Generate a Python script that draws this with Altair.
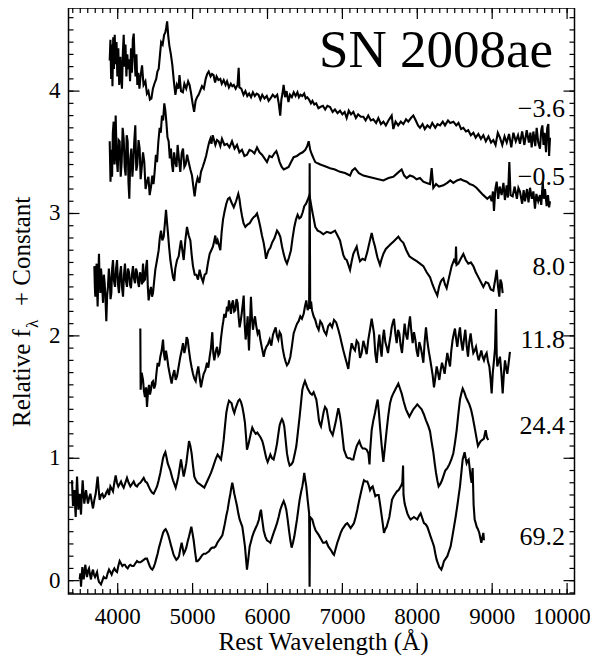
import altair as alt
import pandas as pd

FONT = "Liberation Serif"

epochs = ["\u22123.6", "\u22120.5", "8.0", "11.8", "24.4", "69.2"]

spec_m36 = [
    (3893, 4.25), (3903, 4.42), (3912, 4.10), (3921, 4.38), (3930, 4.04), (3940, 4.44), (3950, 4.18),
    (3960, 4.46), (3972, 4.22), (3984, 4.40), (3995, 4.12), (4008, 4.35), (4020, 4.05), (4035, 4.28),
    (4047, 4.10), (4057, 4.02), (4068, 4.30), (4080, 4.46), (4092, 4.20), (4104, 4.38), (4116, 4.12),
    (4128, 4.30), (4140, 4.18), (4152, 4.26), (4165, 4.08), (4178, 4.35), (4190, 4.15), (4202, 4.42),
    (4214, 4.47), (4226, 4.25), (4238, 4.12), (4250, 4.30), (4262, 4.05), (4275, 4.15), (4290, 4.02),
    (4305, 4.12), (4325, 4.21), (4345, 4.05), (4370, 4.08), (4390, 3.98), (4410, 4.00), (4430, 3.93),
    (4450, 3.94), (4470, 4.02), (4490, 4.06), (4514, 4.10), (4530, 4.16), (4547, 4.18), (4565, 4.30),
    (4580, 4.40), (4600, 4.38), (4620, 4.46), (4636, 4.48), (4648, 4.52), (4660, 4.57), (4675, 4.45),
    (4690, 4.37), (4710, 4.30), (4730, 4.21), (4750, 4.08), (4770, 3.97), (4790, 4.05), (4810, 4.02),
    (4825, 4.13), (4845, 4.00), (4870, 3.99), (4890, 4.06), (4915, 4.02), (4940, 4.08), (4960, 4.05),
    (4980, 3.98), (5000, 3.90), (5020, 3.83), (5040, 3.92), (5060, 3.95), (5080, 3.97), (5100, 4.00),
    (5125, 4.04), (5150, 4.02), (5175, 4.10), (5195, 4.14), (5215, 4.16), (5240, 4.12), (5260, 4.14),
    (5280, 4.13), (5300, 4.07), (5320, 4.12), (5345, 4.09), (5370, 4.10), (5390, 4.06), (5415, 4.09),
    (5440, 4.05), (5460, 4.08), (5485, 4.03), (5510, 4.06), (5530, 4.04), (5550, 4.05), (5575, 4.02),
    (5600, 4.05), (5615, 4.19), (5625, 4.03), (5650, 4.02), (5680, 3.97), (5705, 4.00), (5730, 3.96),
    (5755, 3.98), (5780, 3.95), (5805, 3.99), (5830, 3.96), (5855, 3.98), (5880, 3.97), (5905, 3.93),
    (5930, 3.97), (5960, 3.94), (5990, 3.96), (6015, 3.92), (6040, 3.94), (6070, 3.97), (6100, 3.95),
    (6130, 3.97), (6150, 3.90), (6170, 3.80), (6185, 3.93), (6200, 3.98), (6215, 4.05), (6235, 3.95),
    (6255, 4.00), (6280, 3.91), (6300, 3.97), (6325, 3.95), (6350, 3.99), (6375, 3.96), (6400, 3.99),
    (6420, 3.95), (6440, 3.97), (6465, 3.96), (6490, 3.98), (6510, 3.94), (6530, 3.95), (6555, 3.93),
    (6580, 3.90), (6600, 3.92), (6625, 3.89), (6650, 3.90), (6680, 3.86), (6705, 3.87), (6740, 3.88),
    (6770, 3.85), (6800, 3.88), (6835, 3.87), (6870, 3.83), (6900, 3.85), (6935, 3.82), (6968, 3.84),
    (7000, 3.81), (7030, 3.83), (7057, 3.78), (7085, 3.84), (7115, 3.81), (7146, 3.83), (7180, 3.78),
    (7210, 3.81), (7245, 3.79), (7280, 3.79), (7310, 3.76), (7345, 3.80), (7380, 3.76), (7413, 3.77),
    (7450, 3.74), (7480, 3.78), (7515, 3.73), (7547, 3.75), (7580, 3.72), (7615, 3.76), (7658, 3.80),
    (7680, 3.69), (7710, 3.75), (7745, 3.72), (7780, 3.75), (7814, 3.73), (7850, 3.77), (7880, 3.75),
    (7915, 3.78), (7947, 3.80), (7980, 3.76), (8010, 3.72), (8036, 3.70), (8070, 3.73), (8100, 3.69),
    (8135, 3.72), (8170, 3.70), (8200, 3.74), (8240, 3.70), (8270, 3.73), (8304, 3.72), (8340, 3.75),
    (8370, 3.72), (8410, 3.76), (8440, 3.74), (8482, 3.75), (8520, 3.72), (8550, 3.74), (8585, 3.69),
    (8615, 3.70), (8650, 3.67), (8680, 3.68), (8715, 3.64), (8749, 3.66), (8780, 3.62), (8815, 3.65),
    (8850, 3.61), (8882, 3.64), (8915, 3.59), (8950, 3.63), (8985, 3.58), (9015, 3.60), (9045, 3.56),
    (9075, 3.66), (9104, 3.62), (9135, 3.56), (9165, 3.63), (9194, 3.58), (9225, 3.65), (9255, 3.54),
    (9283, 3.66), (9315, 3.59), (9345, 3.64), (9371, 3.57), (9400, 3.67), (9430, 3.56), (9461, 3.68),
    (9490, 3.58), (9510, 3.66), (9527, 3.54), (9550, 3.67), (9575, 3.55), (9594, 3.70), (9615, 3.58),
    (9638, 3.53), (9655, 3.68), (9670, 3.72), (9685, 3.56), (9700, 3.66), (9719, 3.50), (9735, 3.70),
    (9750, 3.73), (9760, 3.47), (9772, 3.62),
]

spec_m05 = [
    (3893, 3.59), (3904, 3.26), (3915, 3.52), (3925, 3.30), (3935, 3.66), (3946, 3.75), (3958, 3.40),
    (3973, 3.80), (3986, 3.45), (4000, 3.34), (4013, 3.60), (4026, 3.59), (4040, 3.30), (4053, 3.42),
    (4066, 3.70), (4080, 3.61), (4093, 3.38), (4106, 3.31), (4120, 3.64), (4133, 3.59), (4144, 3.25),
    (4155, 3.12), (4168, 3.45), (4182, 3.53), (4196, 3.30), (4209, 3.42), (4222, 3.60), (4235, 3.72),
    (4248, 3.35), (4262, 3.40), (4278, 3.60), (4293, 3.53), (4306, 3.28), (4320, 3.37), (4338, 3.50),
    (4355, 3.42), (4372, 3.20), (4391, 3.26), (4410, 3.30), (4427, 3.15), (4445, 3.22), (4462, 3.31),
    (4478, 3.24), (4493, 3.34), (4510, 3.48), (4525, 3.42), (4542, 3.58), (4560, 3.70), (4575, 3.66),
    (4591, 3.80), (4606, 3.76), (4622, 3.90), (4636, 3.84), (4649, 3.75), (4665, 3.62), (4680, 3.59),
    (4696, 3.45), (4711, 3.53), (4725, 3.40), (4738, 3.34), (4753, 3.50), (4769, 3.42), (4785, 3.38),
    (4800, 3.56), (4818, 3.44), (4836, 3.34), (4854, 3.49), (4872, 3.53), (4890, 3.38), (4907, 3.40),
    (4927, 3.48), (4947, 3.42), (4970, 3.36), (4992, 3.31), (5010, 3.22), (5027, 3.14), (5047, 3.24),
    (5067, 3.29), (5090, 3.25), (5112, 3.34), (5135, 3.38), (5156, 3.42), (5180, 3.47), (5201, 3.53),
    (5220, 3.58), (5237, 3.61), (5252, 3.57), (5268, 3.64), (5286, 3.60), (5304, 3.56), (5326, 3.60),
    (5348, 3.59), (5370, 3.55), (5392, 3.61), (5425, 3.56), (5459, 3.57), (5492, 3.54), (5526, 3.59),
    (5560, 3.53), (5593, 3.56), (5625, 3.50), (5659, 3.52), (5692, 3.47), (5726, 3.48), (5760, 3.52),
    (5793, 3.51), (5826, 3.49), (5860, 3.54), (5893, 3.50), (5926, 3.48), (5960, 3.45), (5993, 3.42),
    (6026, 3.47), (6060, 3.46), (6090, 3.49), (6118, 3.51), (6140, 3.47), (6162, 3.42), (6190, 3.38),
    (6216, 3.36), (6250, 3.37), (6282, 3.38), (6315, 3.42), (6349, 3.46), (6393, 3.47), (6438, 3.49),
    (6470, 3.50), (6505, 3.52), (6530, 3.55), (6550, 3.59), (6570, 3.52), (6594, 3.48), (6615, 3.45),
    (6638, 3.42), (6670, 3.41), (6705, 3.40), (6750, 3.39), (6794, 3.38), (6835, 3.37), (6900, 3.36),
    (6968, 3.34), (7035, 3.33), (7102, 3.31), (7130, 3.35), (7168, 3.37), (7220, 3.33), (7280, 3.31),
    (7345, 3.30), (7413, 3.29), (7480, 3.28), (7547, 3.27), (7615, 3.29), (7680, 3.30), (7735, 3.33),
    (7791, 3.36), (7825, 3.31), (7858, 3.29), (7900, 3.31), (7947, 3.30), (7990, 3.28), (8036, 3.29),
    (8080, 3.26), (8125, 3.25), (8170, 3.24), (8192, 3.37), (8214, 3.21), (8250, 3.24), (8290, 3.22),
    (8348, 3.23), (8400, 3.25), (8440, 3.27), (8481, 3.25), (8530, 3.27), (8580, 3.28), (8615, 3.27),
    (8660, 3.26), (8700, 3.24), (8748, 3.23), (8790, 3.21), (8835, 3.18), (8882, 3.15), (8935, 3.12),
    (8970, 3.14), (8993, 3.10), (9010, 3.18), (9024, 3.02), (9042, 3.20), (9060, 3.26), (9080, 3.12),
    (9100, 3.22), (9126, 3.15), (9150, 3.25), (9170, 3.11), (9193, 3.23), (9210, 3.13), (9229, 3.42),
    (9245, 3.15), (9273, 3.14), (9300, 3.22), (9330, 3.12), (9350, 3.21), (9371, 3.18), (9400, 3.08),
    (9420, 3.19), (9438, 3.10), (9465, 3.20), (9485, 3.09), (9505, 3.21), (9530, 3.12), (9550, 3.18),
    (9571, 3.04), (9590, 3.16), (9615, 3.10), (9638, 3.15), (9655, 3.07), (9675, 3.26), (9690, 3.12),
    (9705, 3.20), (9727, 3.06), (9745, 3.15), (9760, 3.05), (9772, 3.10),
]

spec_p80 = [
    (3688, 2.57), (3695, 2.40), (3701, 2.32), (3710, 2.52), (3719, 2.59), (3726, 2.36), (3732, 2.24),
    (3741, 2.50), (3750, 2.67), (3759, 2.45), (3768, 2.35), (3777, 2.55), (3786, 2.48), (3795, 2.38),
    (3804, 2.27), (3815, 2.50), (3826, 2.43), (3837, 2.30), (3848, 2.12), (3859, 2.33), (3870, 2.40),
    (3882, 2.55), (3893, 2.48), (3904, 2.30), (3915, 2.35), (3926, 2.55), (3937, 2.62), (3950, 2.45),
    (3964, 2.40), (3978, 2.55), (3991, 2.62), (4004, 2.42), (4017, 2.35), (4030, 2.50), (4044, 2.57),
    (4057, 2.40), (4071, 2.32), (4084, 2.50), (4097, 2.59), (4110, 2.45), (4124, 2.40), (4137, 2.55),
    (4151, 2.52), (4164, 2.42), (4177, 2.39), (4190, 2.50), (4204, 2.57), (4217, 2.47), (4231, 2.43),
    (4244, 2.55), (4258, 2.52), (4271, 2.44), (4284, 2.40), (4298, 2.52), (4311, 2.48), (4324, 2.42),
    (4338, 2.59), (4351, 2.45), (4364, 2.46), (4378, 2.56), (4391, 2.62), (4402, 2.40), (4413, 2.29),
    (4428, 2.36), (4444, 2.40), (4458, 2.32), (4471, 2.35), (4487, 2.45), (4502, 2.54), (4525, 2.62),
    (4547, 2.70), (4562, 2.80), (4578, 2.86), (4596, 2.78), (4614, 2.81), (4630, 2.92), (4645, 3.03),
    (4658, 2.93), (4671, 2.84), (4687, 2.72), (4703, 2.62), (4720, 2.55), (4738, 2.48), (4755, 2.45),
    (4769, 2.55), (4792, 2.62), (4814, 2.65), (4830, 2.72), (4845, 2.78), (4863, 2.70), (4881, 2.62),
    (4903, 2.78), (4925, 2.89), (4948, 2.82), (4970, 2.78), (4988, 2.66), (5005, 2.57), (5028, 2.50),
    (5050, 2.50), (5072, 2.46), (5094, 2.54), (5116, 2.48), (5139, 2.44), (5161, 2.50), (5183, 2.51),
    (5206, 2.60), (5228, 2.67), (5250, 2.70), (5272, 2.73), (5290, 2.78), (5303, 2.82), (5318, 2.75),
    (5334, 2.78), (5352, 2.74), (5370, 2.70), (5388, 2.85), (5406, 2.95), (5428, 3.02), (5450, 3.08),
    (5472, 3.12), (5494, 3.13), (5520, 3.09), (5550, 3.05), (5580, 3.10), (5610, 3.16), (5625, 3.12),
    (5640, 3.05), (5660, 2.98), (5680, 2.92), (5704, 2.89), (5733, 2.91), (5762, 2.92), (5790, 2.95),
    (5815, 2.97), (5838, 2.98), (5860, 3.00), (5882, 2.95), (5904, 2.89), (5926, 2.82), (5949, 2.76),
    (5965, 2.70), (5980, 2.63), (5998, 2.67), (6015, 2.70), (6038, 2.72), (6060, 2.76), (6094, 2.80),
    (6127, 2.86), (6149, 2.84), (6171, 2.81), (6194, 2.73), (6216, 2.67), (6238, 2.62), (6260, 2.59),
    (6287, 2.64), (6313, 2.70), (6335, 2.80), (6358, 2.89), (6380, 2.95), (6402, 2.99), (6425, 2.96),
    (6447, 2.97), (6470, 3.01), (6491, 3.06), (6515, 3.08), (6536, 3.11), (6560, 3.15), (6577, 3.09),
    (6594, 3.03), (6616, 2.96), (6638, 2.89), (6670, 2.86), (6705, 2.85), (6745, 2.83), (6790, 2.85),
    (6845, 2.84), (6901, 2.86), (6935, 2.82), (6968, 2.78), (6990, 2.72), (7013, 2.66), (7035, 2.63),
    (7057, 2.62), (7080, 2.58), (7102, 2.54), (7124, 2.61), (7146, 2.67), (7168, 2.70), (7191, 2.73),
    (7213, 2.66), (7235, 2.61), (7268, 2.63), (7302, 2.62), (7330, 2.68), (7360, 2.76), (7391, 2.84),
    (7413, 2.78), (7435, 2.73), (7468, 2.64), (7502, 2.58), (7525, 2.63), (7547, 2.67), (7580, 2.71),
    (7613, 2.73), (7646, 2.75), (7680, 2.77), (7713, 2.79), (7747, 2.81), (7780, 2.78), (7814, 2.76),
    (7854, 2.70), (7894, 2.65), (7943, 2.63), (7992, 2.61), (8036, 2.59), (8081, 2.57), (8125, 2.52),
    (8170, 2.48), (8203, 2.42), (8236, 2.37), (8252, 2.35), (8267, 2.33), (8290, 2.40), (8312, 2.44),
    (8330, 2.46), (8348, 2.47), (8370, 2.42), (8392, 2.39), (8425, 2.48), (8459, 2.57), (8490, 2.62),
    (8510, 2.60), (8517, 2.73), (8525, 2.58), (8548, 2.59), (8580, 2.63), (8615, 2.67), (8648, 2.62),
    (8681, 2.59), (8715, 2.60), (8748, 2.57), (8781, 2.52), (8815, 2.48), (8848, 2.44), (8882, 2.40),
    (8915, 2.44), (8948, 2.43), (8981, 2.38), (9015, 2.37), (9038, 2.45), (9060, 2.54), (9078, 2.40),
    (9095, 2.32), (9110, 2.46), (9126, 2.43), (9140, 2.35),
]

spec_p118 = [
    (4302, 2.06), (4306, 1.56), (4320, 1.70), (4338, 1.64), (4350, 1.55), (4364, 1.50), (4378, 1.58),
    (4391, 1.42), (4405, 1.55), (4418, 1.60), (4431, 1.52), (4444, 1.56), (4458, 1.62), (4471, 1.63),
    (4487, 1.57), (4502, 1.60), (4518, 1.70), (4533, 1.78), (4551, 1.75), (4569, 1.83), (4587, 1.88),
    (4605, 1.97), (4618, 1.85), (4631, 1.80), (4645, 1.88), (4658, 1.83), (4676, 1.75), (4694, 1.69),
    (4707, 1.65), (4720, 1.61), (4738, 1.68), (4756, 1.72), (4774, 1.64), (4792, 1.67), (4814, 1.75),
    (4836, 1.83), (4854, 1.88), (4872, 1.94), (4890, 1.86), (4907, 1.91), (4920, 1.99), (4934, 1.97),
    (4952, 1.88), (4970, 1.80), (4988, 1.74), (5005, 1.69), (5023, 1.65), (5041, 1.63), (5058, 1.70),
    (5076, 1.75), (5094, 1.66), (5112, 1.58), (5130, 1.64), (5148, 1.69), (5170, 1.72), (5192, 1.78),
    (5210, 1.74), (5228, 1.83), (5245, 1.90), (5263, 2.03), (5276, 1.86), (5290, 1.80), (5308, 1.87),
    (5326, 1.91), (5344, 1.84), (5361, 1.86), (5379, 1.98), (5397, 2.07), (5410, 2.12), (5423, 2.18),
    (5441, 2.15), (5459, 2.24), (5472, 2.20), (5486, 2.29), (5499, 2.24), (5512, 2.18), (5525, 2.26),
    (5539, 2.29), (5555, 2.20), (5570, 2.21), (5586, 2.30), (5601, 2.27), (5615, 2.15), (5628, 2.07),
    (5642, 2.12), (5655, 2.18), (5668, 2.25), (5682, 2.33), (5695, 2.10), (5708, 1.97), (5722, 2.05),
    (5735, 2.16), (5744, 2.00), (5753, 1.88), (5766, 2.10), (5779, 2.32), (5792, 2.15), (5806, 2.05),
    (5820, 2.12), (5833, 2.16), (5850, 2.08), (5868, 2.02), (5886, 2.05), (5904, 1.97), (5926, 1.90),
    (5949, 1.83), (5966, 1.88), (5984, 1.91), (6006, 1.93), (6029, 1.97), (6051, 1.92), (6073, 2.01),
    (6091, 2.04), (6109, 2.07), (6126, 2.00), (6144, 1.97), (6162, 2.03), (6180, 2.01), (6202, 1.90),
    (6224, 1.83), (6242, 1.79), (6260, 1.76), (6282, 1.78), (6305, 1.83), (6327, 1.92), (6349, 2.02),
    (6371, 2.06), (6394, 2.10), (6416, 2.12), (6438, 2.16), (6460, 2.14), (6483, 2.18), (6500, 2.24),
    (6518, 2.29), (6536, 2.21), (6556, 2.25), (6563, 3.41), (6570, 2.22), (6582, 2.28), (6594, 2.21),
    (6616, 2.16), (6638, 2.13), (6660, 2.08), (6683, 2.05), (6705, 2.12), (6727, 2.10), (6756, 2.04),
    (6785, 2.01), (6810, 2.08), (6835, 2.10), (6862, 2.07), (6888, 2.13), (6917, 2.11), (6946, 2.05),
    (6968, 2.00), (6990, 1.94), (7013, 1.88), (7035, 1.83), (7057, 1.78), (7079, 1.73), (7101, 1.85),
    (7124, 1.94), (7146, 1.90), (7168, 1.88), (7190, 1.96), (7213, 1.94), (7235, 1.82), (7257, 1.86),
    (7280, 1.96), (7302, 1.91), (7324, 1.85), (7346, 1.97), (7368, 2.05), (7391, 2.14), (7407, 2.08),
    (7422, 2.02), (7440, 1.85), (7458, 1.78), (7476, 1.92), (7493, 2.01), (7508, 1.90), (7524, 1.83),
    (7540, 1.98), (7555, 2.05), (7573, 1.95), (7591, 1.91), (7609, 1.86), (7627, 1.94), (7643, 2.00),
    (7658, 2.07), (7673, 2.11), (7689, 2.14), (7707, 2.02), (7725, 1.94), (7743, 2.05), (7760, 2.02),
    (7778, 1.92), (7796, 1.86), (7813, 1.98), (7831, 2.10), (7849, 2.01), (7867, 1.97), (7885, 2.08),
    (7903, 2.16), (7920, 2.04), (7938, 1.94), (7956, 2.03), (7974, 1.97), (7991, 1.88), (8009, 1.83),
    (8027, 1.95), (8045, 1.91), (8063, 1.85), (8081, 1.78), (8098, 1.95), (8116, 2.07), (8134, 1.96),
    (8152, 1.88), (8169, 1.82), (8187, 1.75), (8205, 1.68), (8223, 1.58), (8241, 1.66), (8259, 1.75),
    (8276, 1.70), (8294, 1.64), (8312, 1.72), (8330, 1.78), (8347, 1.74), (8365, 1.69), (8383, 1.78),
    (8401, 1.86), (8419, 1.80), (8437, 1.75), (8454, 1.88), (8472, 1.97), (8488, 2.02), (8503, 2.06),
    (8518, 1.98), (8534, 1.91), (8552, 2.00), (8570, 2.07), (8588, 1.95), (8606, 1.88), (8623, 1.97),
    (8641, 2.05), (8659, 1.92), (8677, 1.83), (8694, 1.95), (8712, 2.02), (8730, 1.93), (8748, 1.86),
    (8766, 1.88), (8784, 1.91), (8801, 1.85), (8819, 1.80), (8837, 1.84), (8855, 1.88), (8872, 1.83),
    (8890, 1.80), (8908, 1.84), (8926, 1.86), (8944, 1.79), (8962, 1.75), (8978, 1.65), (8993, 1.53),
    (9008, 1.70), (9024, 1.80), (9038, 1.90), (9051, 2.22), (9060, 1.85), (9068, 1.75), (9086, 1.79),
    (9104, 1.83), (9122, 1.70), (9140, 1.53), (9155, 1.68), (9171, 1.80), (9186, 1.74), (9202, 1.69),
    (9220, 1.78), (9237, 1.87),
]

spec_p244 = [
    (3390, 0.82), (3397, 0.70), (3403, 0.61), (3412, 0.68), (3421, 0.74), (3430, 0.62), (3439, 0.52),
    (3448, 0.70), (3457, 0.85), (3466, 0.72), (3474, 0.58), (3483, 0.65), (3492, 0.71), (3501, 0.62),
    (3510, 0.54), (3521, 0.70), (3532, 0.82), (3543, 0.72), (3554, 0.63), (3566, 0.69), (3577, 0.74),
    (3590, 0.68), (3603, 0.63), (3619, 0.68), (3635, 0.71), (3652, 0.65), (3670, 0.59), (3688, 0.66),
    (3706, 0.71), (3719, 0.78), (3732, 0.85), (3745, 0.75), (3759, 0.66), (3777, 0.70), (3795, 0.71),
    (3812, 0.68), (3830, 0.69), (3848, 0.72), (3866, 0.74), (3884, 0.70), (3902, 0.77), (3920, 0.75),
    (3937, 0.73), (3955, 0.80), (3973, 0.86), (3990, 0.80), (4008, 0.77), (4026, 0.79), (4044, 0.81),
    (4062, 0.78), (4080, 0.76), (4102, 0.80), (4124, 0.84), (4146, 0.80), (4169, 0.77), (4191, 0.79),
    (4213, 0.81), (4235, 0.78), (4258, 0.77), (4280, 0.79), (4302, 0.80), (4325, 0.82), (4347, 0.84),
    (4369, 0.81), (4391, 0.80), (4413, 0.77), (4436, 0.74), (4458, 0.72), (4480, 0.71), (4503, 0.74),
    (4525, 0.77), (4547, 0.82), (4569, 0.88), (4587, 0.94), (4605, 1.00), (4620, 1.03), (4636, 1.05),
    (4651, 1.01), (4667, 0.96), (4685, 0.93), (4703, 0.90), (4720, 0.86), (4738, 0.82), (4756, 0.79),
    (4774, 0.76), (4791, 0.80), (4809, 0.85), (4827, 0.92), (4845, 0.99), (4863, 0.92), (4881, 0.85),
    (4898, 0.90), (4916, 0.96), (4934, 1.05), (4952, 1.14), (4970, 1.10), (4987, 1.04), (5005, 0.94),
    (5023, 0.85), (5045, 0.82), (5067, 0.80), (5090, 0.79), (5112, 0.78), (5134, 0.77), (5156, 0.76),
    (5178, 0.79), (5201, 0.82), (5223, 0.85), (5245, 0.88), (5268, 0.92), (5290, 0.96), (5312, 1.00),
    (5334, 1.03), (5357, 1.01), (5379, 0.99), (5397, 1.06), (5415, 1.15), (5432, 1.26), (5450, 1.37),
    (5468, 1.43), (5486, 1.47), (5503, 1.46), (5521, 1.45), (5539, 1.40), (5557, 1.37), (5575, 1.41),
    (5593, 1.44), (5610, 1.47), (5628, 1.48), (5646, 1.46), (5664, 1.42), (5682, 1.36), (5699, 1.29),
    (5713, 1.18), (5726, 1.07), (5744, 1.11), (5762, 1.16), (5780, 1.21), (5797, 1.25), (5820, 1.22),
    (5842, 1.20), (5864, 1.21), (5886, 1.19), (5908, 1.17), (5931, 1.14), (5948, 1.10), (5966, 1.05),
    (5984, 1.00), (6002, 0.97), (6020, 1.00), (6038, 1.03), (6060, 1.00), (6082, 0.99), (6105, 1.05),
    (6127, 1.12), (6145, 1.20), (6162, 1.27), (6178, 1.30), (6193, 1.32), (6209, 1.30), (6224, 1.26),
    (6242, 1.15), (6260, 1.04), (6278, 0.98), (6296, 0.94), (6318, 0.95), (6340, 0.97), (6362, 1.03),
    (6385, 1.10), (6407, 1.22), (6429, 1.34), (6447, 1.45), (6465, 1.56), (6482, 1.60), (6500, 1.63),
    (6518, 1.60), (6536, 1.57), (6554, 1.55), (6572, 1.53), (6594, 1.52), (6616, 1.54), (6634, 1.51),
    (6652, 1.48), (6670, 1.40), (6687, 1.31), (6700, 1.28), (6714, 1.26), (6732, 1.32), (6750, 1.38),
    (6768, 1.42), (6790, 1.40), (6812, 1.32), (6835, 1.23), (6852, 1.21), (6870, 1.19), (6893, 1.25),
    (6915, 1.31), (6930, 1.36), (6946, 1.41), (6963, 1.36), (6981, 1.29), (7001, 1.18), (7021, 1.07),
    (7039, 1.04), (7057, 1.01), (7080, 1.00), (7102, 1.00), (7124, 0.99), (7146, 0.99), (7168, 1.05),
    (7191, 1.10), (7208, 1.12), (7226, 1.14), (7249, 1.10), (7271, 1.08), (7298, 1.08), (7324, 1.07),
    (7347, 1.04), (7362, 0.95), (7369, 1.05), (7391, 1.23), (7413, 1.31), (7435, 1.37), (7453, 1.43),
    (7471, 1.48), (7487, 1.38), (7502, 1.26), (7525, 1.10), (7547, 0.97), (7569, 1.10), (7591, 1.23),
    (7613, 1.35), (7636, 1.45), (7658, 1.50), (7680, 1.53), (7713, 1.57), (7747, 1.61), (7769, 1.57),
    (7791, 1.53), (7820, 1.46), (7849, 1.40), (7871, 1.37), (7894, 1.34), (7920, 1.37), (7947, 1.40),
    (7974, 1.42), (8000, 1.44), (8029, 1.42), (8058, 1.40), (8087, 1.36), (8116, 1.31), (8143, 1.27),
    (8170, 1.22), (8192, 1.13), (8214, 1.05), (8232, 0.96), (8250, 0.88), (8267, 0.82), (8285, 0.77),
    (8308, 0.79), (8330, 0.82), (8352, 0.86), (8374, 0.90), (8401, 0.92), (8428, 0.95), (8455, 0.99),
    (8481, 1.04), (8504, 1.13), (8526, 1.23), (8548, 1.36), (8570, 1.48), (8588, 1.53), (8606, 1.57),
    (8628, 1.54), (8650, 1.50), (8672, 1.47), (8695, 1.44), (8717, 1.40), (8739, 1.34), (8757, 1.28),
    (8775, 1.22), (8792, 1.16), (8810, 1.10), (8828, 1.12), (8846, 1.14), (8868, 1.15), (8890, 1.16),
    (8902, 1.20), (8913, 1.23), (8930, 1.17), (8948, 1.15),
]

spec_p692 = [
    (3492, 0.01), (3501, 0.06), (3510, -0.05), (3519, 0.04), (3528, 0.11), (3537, 0.05), (3546, 0.01),
    (3557, 0.08), (3568, 0.13), (3579, 0.07), (3590, 0.03), (3603, 0.08), (3617, 0.10), (3630, 0.05),
    (3643, 0.01), (3656, 0.06), (3670, 0.09), (3683, 0.05), (3697, 0.03), (3710, 0.05), (3724, 0.07),
    (3737, 0.02), (3750, -0.01), (3764, -0.02), (3777, -0.03), (3795, 0.00), (3813, 0.03), (3830, 0.02),
    (3848, 0.02), (3866, 0.06), (3884, 0.09), (3902, 0.07), (3919, 0.05), (3937, 0.08), (3955, 0.10),
    (3973, 0.08), (3991, 0.07), (4008, 0.12), (4026, 0.16), (4044, 0.14), (4062, 0.12), (4080, 0.13),
    (4097, 0.13), (4115, 0.11), (4133, 0.10), (4151, 0.12), (4169, 0.13), (4191, 0.12), (4213, 0.12),
    (4235, 0.14), (4258, 0.16), (4280, 0.15), (4302, 0.15), (4325, 0.16), (4347, 0.17), (4369, 0.18),
    (4391, 0.18), (4409, 0.15), (4427, 0.12), (4444, 0.10), (4462, 0.09), (4480, 0.11), (4498, 0.14),
    (4515, 0.18), (4533, 0.22), (4551, 0.27), (4569, 0.31), (4587, 0.35), (4605, 0.39), (4622, 0.41),
    (4640, 0.42), (4658, 0.40), (4676, 0.37), (4694, 0.33), (4711, 0.29), (4729, 0.25), (4747, 0.21),
    (4765, 0.19), (4783, 0.17), (4800, 0.18), (4818, 0.20), (4836, 0.26), (4854, 0.31), (4867, 0.27),
    (4881, 0.22), (4898, 0.24), (4916, 0.27), (4934, 0.32), (4952, 0.36), (4967, 0.40), (4983, 0.44),
    (4998, 0.39), (5014, 0.33), (5032, 0.24), (5050, 0.16), (5067, 0.16), (5085, 0.17), (5108, 0.19),
    (5130, 0.21), (5152, 0.22), (5174, 0.22), (5197, 0.23), (5219, 0.24), (5241, 0.26), (5263, 0.27),
    (5286, 0.27), (5308, 0.28), (5330, 0.31), (5352, 0.33), (5375, 0.35), (5397, 0.37), (5415, 0.42),
    (5432, 0.47), (5450, 0.53), (5468, 0.58), (5486, 0.65), (5504, 0.71), (5517, 0.76), (5530, 0.80),
    (5543, 0.76), (5557, 0.71), (5575, 0.66), (5593, 0.61), (5610, 0.55), (5628, 0.50), (5646, 0.47),
    (5664, 0.44), (5682, 0.36), (5699, 0.28), (5713, 0.18), (5726, 0.09), (5744, 0.18), (5762, 0.28),
    (5780, 0.32), (5797, 0.36), (5820, 0.40), (5842, 0.43), (5864, 0.46), (5886, 0.50), (5900, 0.55),
    (5913, 0.58), (5931, 0.49), (5949, 0.41), (5971, 0.36), (5993, 0.33), (6016, 0.32), (6038, 0.31),
    (6060, 0.35), (6082, 0.39), (6105, 0.43), (6127, 0.47), (6149, 0.52), (6171, 0.58), (6194, 0.62),
    (6216, 0.65), (6234, 0.62), (6251, 0.58), (6269, 0.50), (6287, 0.41), (6305, 0.33), (6322, 0.27),
    (6340, 0.31), (6358, 0.36), (6376, 0.43), (6394, 0.50), (6411, 0.58), (6429, 0.66), (6447, 0.72),
    (6465, 0.77), (6478, 0.82), (6491, 0.88), (6505, 0.82), (6518, 0.77), (6536, 0.66), (6556, 0.55),
    (6562, -0.05), (6568, 0.52), (6583, 0.51), (6598, 0.50), (6620, 0.45), (6643, 0.41), (6665, 0.39),
    (6687, 0.37), (6714, 0.34), (6741, 0.31), (6763, 0.31), (6785, 0.32), (6812, 0.28), (6835, 0.26),
    (6857, 0.24), (6873, 0.22), (6888, 0.21), (6910, 0.26), (6932, 0.31), (6955, 0.35), (6977, 0.39),
    (6999, 0.42), (7021, 0.44), (7044, 0.46), (7066, 0.47), (7088, 0.45), (7110, 0.43), (7133, 0.45),
    (7155, 0.47), (7177, 0.52), (7199, 0.58), (7222, 0.65), (7244, 0.71), (7266, 0.77), (7288, 0.82),
    (7311, 0.81), (7333, 0.81), (7351, 0.78), (7369, 0.74), (7386, 0.76), (7404, 0.77), (7422, 0.73),
    (7440, 0.69), (7462, 0.70), (7484, 0.70), (7502, 0.63), (7520, 0.55), (7538, 0.47), (7555, 0.39),
    (7573, 0.42), (7591, 0.44), (7609, 0.48), (7627, 0.52), (7645, 0.59), (7662, 0.66), (7685, 0.69),
    (7707, 0.71), (7729, 0.73), (7751, 0.74), (7769, 0.76), (7787, 0.78), (7800, 0.80), (7810, 0.94),
    (7816, 0.70), (7831, 0.63), (7849, 0.59), (7867, 0.55), (7889, 0.52), (7911, 0.50), (7934, 0.51),
    (7956, 0.52), (7978, 0.51), (8000, 0.50), (8023, 0.53), (8045, 0.55), (8067, 0.51), (8089, 0.47),
    (8112, 0.46), (8134, 0.44), (8156, 0.40), (8178, 0.36), (8201, 0.32), (8223, 0.28), (8241, 0.22),
    (8259, 0.17), (8276, 0.14), (8294, 0.11), (8308, 0.10), (8321, 0.09), (8339, 0.12), (8356, 0.16),
    (8379, 0.18), (8401, 0.20), (8423, 0.24), (8445, 0.28), (8468, 0.36), (8490, 0.44), (8512, 0.52),
    (8534, 0.61), (8552, 0.69), (8570, 0.77), (8588, 0.88), (8606, 0.99), (8619, 1.02), (8632, 1.05),
    (8646, 1.00), (8659, 0.96), (8672, 0.98), (8686, 0.99), (8699, 0.92), (8712, 0.85), (8726, 0.80),
    (8739, 0.92), (8752, 0.62), (8766, 0.50), (8780, 0.47), (8793, 0.44), (8810, 0.42), (8828, 0.39),
    (8841, 0.35), (8855, 0.31), (8868, 0.35), (8882, 0.39), (8890, 0.33),
]

spectra = [spec_m36, spec_m05, spec_p80, spec_p118, spec_p244, spec_p692]

# epoch label anchors (right edge, baseline) in data units
label_wave = [9972, 9972, 9972, 9972, 9972, 9972]
label_flux = [3.79, 3.23, 2.50, 1.90, 1.20, 0.29]

x_major = [4000, 5000, 6000, 7000, 8000, 9000]
x_last = [10000]
x_minor = list(range(3400, 10100, 100))
y_major = [0, 1, 2, 3, 4]
y_minor = [i / 10 for i in range(-1, 47)]

rows = []
for ep, spec in zip(epochs, spectra):
    for w, f in spec:
        rows.append({"epoch": ep, "wave": w, "flux": f})
df = pd.DataFrame(rows)

W, H = 506, 586
xscale = alt.Scale(domain=[3343, 10099], nice=False, zero=False)
yscale = alt.Scale(domain=[-0.109, 4.679], nice=False, zero=False)


def X(field):
    return alt.X(field, scale=xscale, axis=None)


def Y(field):
    return alt.Y(field, scale=yscale, axis=None)


lines = alt.Chart(df).mark_line(color="black", strokeWidth=2.1, clip=True).encode(
    x=X("wave:Q"),
    y=Y("flux:Q"),
    detail="epoch:N",
)


def xticks(vals, length):
    base = alt.Chart(pd.DataFrame({"wave": vals}))
    bot = base.mark_rule(color="black", strokeWidth=1.2).encode(
        x=X("wave:Q"), y=alt.value(H), y2=alt.value(H - length))
    top = base.mark_rule(color="black", strokeWidth=1.2).encode(
        x=X("wave:Q"), y=alt.value(0), y2=alt.value(length))
    return [bot, top]


def yticks(vals, length):
    base = alt.Chart(pd.DataFrame({"flux": vals}))
    left = base.mark_rule(color="black", strokeWidth=1.2).encode(
        y=Y("flux:Q"), x=alt.value(0), x2=alt.value(length))
    right = base.mark_rule(color="black", strokeWidth=1.2).encode(
        y=Y("flux:Q"), x=alt.value(W), x2=alt.value(W - length))
    return [left, right]


tick_layers = xticks(x_major + x_last, 11) + xticks(x_minor, 5) + yticks(y_major, 11) + yticks(y_minor, 5)

# tick labels
xlab = alt.Chart(pd.DataFrame({"wave": x_major})).mark_text(
    align="center", baseline="middle", font=FONT, fontSize=23, color="black"
).encode(x=X("wave:Q"), y=alt.value(H + 23), text=alt.Text("wave:Q", format="d"))
xlab_last = alt.Chart(pd.DataFrame({"wave": x_last})).mark_text(
    align="center", baseline="middle", font=FONT, fontSize=23, color="black", dx=-5
).encode(x=X("wave:Q"), y=alt.value(H + 23), text=alt.Text("wave:Q", format="d"))
ylab = alt.Chart(pd.DataFrame({"flux": y_major})).mark_text(
    align="right", baseline="middle", font=FONT, fontSize=23, color="black"
).encode(x=alt.value(-8), y=Y("flux:Q"), text=alt.Text("flux:Q", format="d"))

one = pd.DataFrame({"a": [0]})
xtitle = alt.Chart(one).mark_text(
    align="center", baseline="middle", font=FONT, fontSize=25, color="black"
).encode(x=alt.value(W / 2 + 2), y=alt.value(H + 48), text=alt.value("Rest Wavelength (\u00c5)"))

labels_df = pd.DataFrame({"text": epochs, "wave": label_wave, "flux": label_flux})
epoch_text = alt.Chart(labels_df).mark_text(
    align="right", baseline="alphabetic", font=FONT, fontSize=26, color="black"
).encode(
    x=X("wave:Q"),
    y=Y("flux:Q"),
    text="text:N",
)

name_df = pd.DataFrame({"text": ["SN 2008ae"], "wave": [9812], "flux": [4.20]})
name_text = alt.Chart(name_df).mark_text(
    align="right", baseline="alphabetic", font=FONT, fontSize=53, color="black"
).encode(
    x=X("wave:Q"),
    y=Y("flux:Q"),
    text="text:N",
)

ytitle1 = alt.Chart(one).mark_text(
    align="left", baseline="alphabetic", angle=270, font=FONT, fontSize=25, color="black"
).encode(x=alt.value(-38.5), y=alt.value(419), text=alt.value("Relative f"))
ytitle2 = alt.Chart(one).mark_text(
    align="left", baseline="alphabetic", angle=270, font=FONT, fontSize=17, color="black"
).encode(x=alt.value(-31), y=alt.value(320), text=alt.value("\u03bb"))
ytitle3 = alt.Chart(one).mark_text(
    align="left", baseline="alphabetic", angle=270, font=FONT, fontSize=25, color="black"
).encode(x=alt.value(-38.5), y=alt.value(298), text=alt.value("+ Constant"))

chart = alt.layer(
    lines, *tick_layers, xlab, xlab_last, ylab, xtitle,
    epoch_text, name_text, ytitle1, ytitle2, ytitle3
).properties(
    width=W, height=H,
    autosize=alt.AutoSizeParams(type="none"),
    padding={"left": 60.5, "top": 0, "right": 15.5, "bottom": 61},
    background="white",
).configure_view(
    stroke="black", strokeWidth=1.5
)

chart.save("out.html", embed_options={"renderer": "svg", "actions": False})
